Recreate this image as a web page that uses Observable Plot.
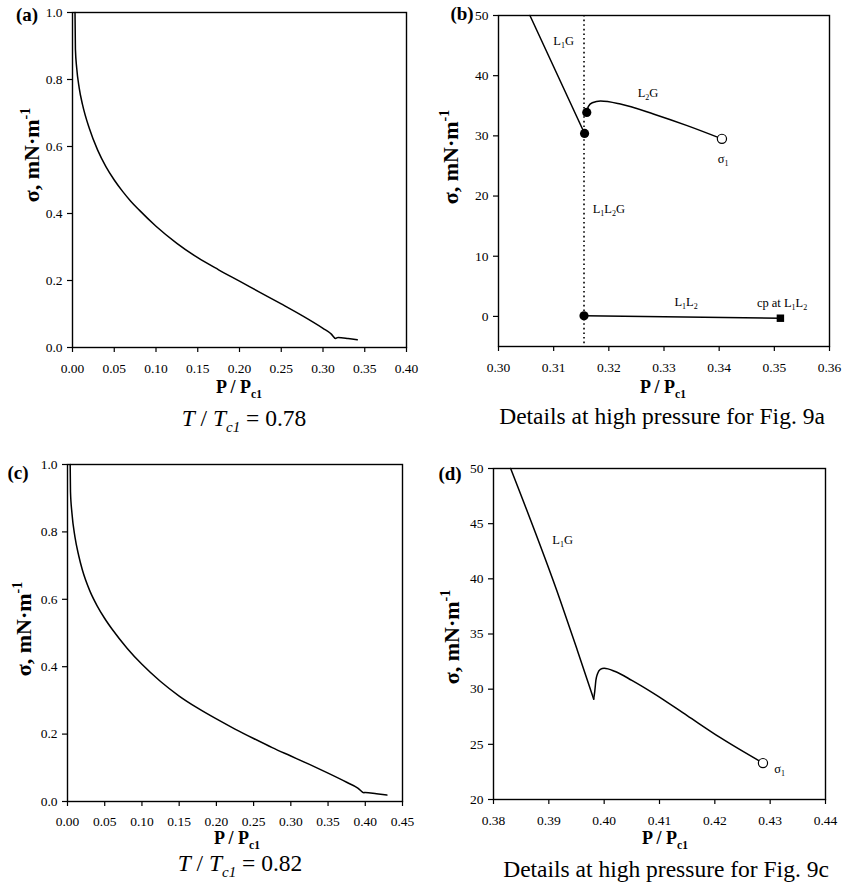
<!DOCTYPE html>
<html><head><meta charset="utf-8">
<script src="https://cdn.jsdelivr.net/npm/d3@7"></script>
<script src="https://cdn.jsdelivr.net/npm/@observablehq/plot@0.6"></script>
<style>
body{margin:0;background:#fff;}
#wrap{position:relative;width:844px;height:885px;overflow:hidden;background:#fff;}
.panel{position:absolute;}
</style></head><body><div id="wrap"></div>
<script>
// ---------- data ----------
// (a) T/Tc1 = 0.78
const aP = [0.003,0.0035,0.005,0.008,0.012,0.02,0.03,0.04,0.05,0.06,0.07,0.08,0.10,0.125,0.15,0.175,0.20,0.225,0.25,0.275,0.30,0.31,0.315,0.318,0.33,0.341];
const aSigma = [1.0,0.89,0.835,0.775,0.725,0.655,0.59,0.54,0.50,0.466,0.436,0.41,0.362,0.311,0.268,0.232,0.198,0.164,0.13,0.095,0.057,0.040,0.027,0.030,0.027,0.023];
const aXTicks = [0.00,0.05,0.10,0.15,0.20,0.25,0.30,0.35,0.40];
const aYTicks = [0.0,0.2,0.4,0.6,0.8,1.0];

// (b) details at high pressure for Fig. 9a
const bL1G_P = [0.3057,0.3156];
const bL1G_S = [50,30.4];
const bL2G_P = [0.316,0.3163,0.317,0.3185,0.3221,0.3282,0.3342,0.3405];
const bL2G_S = [33.9,34.9,35.5,35.8,35.3,33.6,31.7,29.5];
const bL1L2_P = [0.3155,0.3511];
const bL1L2_S = [0.1,-0.3];
const bThreePhaseP = [0.3155];
const bFilledP = [0.3156,0.316,0.3155];
const bFilledS = [30.4,33.9,0.1];
const bOpenP = [0.3405];
const bOpenS = [29.5];
const bSquareP = [0.3511];
const bSquareS = [-0.3];
const bLabelText = ["L_1G","L_2G","σ_1","L_1L_2G","L_1L_2","cp at L_1L_2"];
const bLabelP = [0.3118,0.3271,0.3407,0.3200,0.3340,0.3514];
const bLabelS = [45.8,37.1,26.2,17.9,2.4,2.3];
const bXTicks = [0.30,0.31,0.32,0.33,0.34,0.35,0.36];
const bYTicks = [0,10,20,30,40,50];

// (c) T/Tc1 = 0.82
const cP = [0.0036,0.004,0.006,0.01,0.015,0.02,0.03,0.04,0.05,0.06,0.08,0.10,0.125,0.15,0.175,0.20,0.225,0.25,0.275,0.30,0.325,0.35,0.375,0.39,0.398,0.40,0.415,0.429];
const cSigma = [1.0,0.92,0.855,0.785,0.73,0.687,0.625,0.58,0.543,0.511,0.455,0.407,0.356,0.313,0.277,0.245,0.215,0.187,0.16,0.135,0.11,0.084,0.057,0.04,0.026,0.027,0.023,0.019];
const cXTicks = [0.00,0.05,0.10,0.15,0.20,0.25,0.30,0.35,0.40,0.45];
const cYTicks = [0.0,0.2,0.4,0.6,0.8,1.0];

// (d) details at high pressure for Fig. 9c
const dDescentP = [0.3831,0.3921,0.3951,0.3981];
const dDescentS = [50,38.0,33.6,29.1];
const dRiseP = [0.3981,0.3983,0.3985,0.3988,0.3993,0.400,0.402,0.405,0.409,0.415,0.421,0.4287];
const dRiseS = [29.1,29.8,30.8,31.4,31.8,31.9,31.6,30.8,29.6,27.6,25.6,23.3];
const dOpenP = [0.4287];
const dOpenS = [23.3];
const dLabelText = ["L_1G","σ_1"];
const dLabelP = [0.3925,0.4317];
const dLabelS = [43.5,22.8];
const dXTicks = [0.38,0.39,0.40,0.41,0.42,0.43,0.44];
const dYTicks = [20,25,30,35,40,45,50];

// ---------- helpers ----------
const SERIF = "'Liberation Serif','Times New Roman',serif";
const svgNS = "http://www.w3.org/2000/svg";
const rows = (xs, ys) => xs.map((x, i) => ({x, y: ys[i]}));

function parse(str) {
  const parts = str.split(/(_\{[^}]*\}|_.|\^\{[^}]*\}|\^.)/).filter(s => s);
  return parts.map(p => {
    if (p[0] === "_") return {t: p.slice(1).replace(/^\{|\}$/g, ""), sub: true};
    if (p[0] === "^") return {t: p.slice(1).replace(/^\{|\}$/g, ""), sup: true};
    return {t: p};
  });
}
function fillRich(textEl, segs, size) {
  while (textEl.firstChild) textEl.removeChild(textEl.firstChild);
  let shift = 0;
  for (const s of segs) {
    const ts = document.createElementNS(svgNS, "tspan");
    const target = s.sub ? 0.25 * size : s.sup ? -0.42 * size : 0;
    const dy = target - shift;
    if (dy) ts.setAttribute("dy", dy);
    shift = target;
    if (s.sub || s.sup) ts.style.fontSize = (0.64 * size).toFixed(1) + "px";
    if (s.it) ts.style.fontStyle = "italic";
    ts.textContent = s.t;
    textEl.appendChild(ts);
  }
}
function addText(svg, x, y, segs, {size = 13, weight = "normal", anchor = "middle", rotate = 0} = {}) {
  const t = document.createElementNS(svgNS, "text");
  t.style.fontFamily = SERIF;
  t.style.fontSize = size + "px";
  t.style.fontWeight = weight;
  t.setAttribute("text-anchor", anchor);
  t.setAttribute("fill", "#000");
  if (rotate) t.setAttribute("transform", `translate(${x},${y}) rotate(${rotate})`);
  else { t.setAttribute("x", x); t.setAttribute("y", y); }
  fillRich(t, segs, size);
  svg.appendChild(t);
  return t;
}

const wrap = document.getElementById("wrap");

function panel(cfg) {
  const plot = Plot.plot({
    width: cfg.width, height: cfg.height,
    marginLeft: cfg.m[0], marginRight: cfg.m[1], marginTop: cfg.m[2], marginBottom: cfg.m[3],
    x: {domain: cfg.xDomain},
    y: {domain: cfg.yDomain},
    style: {fontFamily: SERIF, fontSize: "13.5px", color: "#000", background: "#fff", overflow: "visible"},
    marks: [
      Plot.axisX({ticks: cfg.xTicks, tickFormat: cfg.xFmt, tickSize: 5, tickPadding: cfg.xPad || 11, label: null, strokeWidth: 1.2}),
      Plot.axisY({ticks: cfg.yTicks, tickFormat: cfg.yFmt, tickSize: 5, tickPadding: 5, label: null, strokeWidth: 1.2}),
      ...cfg.marks,
      Plot.frame({stroke: "#000", strokeWidth: 1.4})
    ]
  });
  d3.select(plot).selectAll('g[aria-label="text"] text').each(function() {
    const s = this.textContent;
    if (/[_^]/.test(s)) fillRich(this, parse(s), 12.5);
  });
  const div = document.createElement("div");
  div.className = "panel";
  div.style.left = cfg.left + "px";
  div.style.top = cfg.top + "px";
  div.appendChild(plot);
  wrap.appendChild(div);
  const svg = plot;
  addText(svg, cfg.tag[1], cfg.tag[2], [{t: cfg.tag[0]}], {size: 19, weight: "bold"});
  addText(svg, cfg.yTitle[0], cfg.yTitle[1], [{t: "σ, mN·m"}, {t: "-1", sup: true}], {size: 22, weight: "bold", rotate: -90});
  addText(svg, cfg.xTitle[0], cfg.xTitle[1], [{t: "P / P"}, {t: "c1", sub: true}], {size: 18, weight: "bold"});
  addText(svg, cfg.caption[0], cfg.caption[1], cfg.caption[2], {size: 23.5});
  return plot;
}

const lineOpts = {x: "x", y: "y", stroke: "#000", strokeWidth: 1.5};
const f2 = d3.format(".2f"), f1 = d3.format(".1f"), f0 = d3.format("d");

// (a)
panel({
  left: 0, top: 0, width: 422, height: 440, m: [72, 16, 12, 93],
  xDomain: [0, 0.40], yDomain: [0, 1.0], xTicks: aXTicks, yTicks: aYTicks, xFmt: f2, yFmt: f1,
  marks: [Plot.line(rows(aP, aSigma), {...lineOpts, curve: "monotone-x"})],
  tag: ["(a)", 27, 21], yTitle: [39, 155], xTitle: [239, 393],
  caption: [244, 426, [{t: "T", it: true}, {t: " / "}, {t: "T", it: true}, {t: "c1", sub: true, it: true}, {t: " = 0.78"}]]
});

// (b)
panel({
  left: 422, top: 0, width: 422, height: 440, m: [76, 15, 15, 94],
  xDomain: [0.30, 0.36], yDomain: [-5, 50], xTicks: bXTicks, yTicks: bYTicks, xFmt: f2, yFmt: f0,
  marks: [
    Plot.ruleX(bThreePhaseP, {stroke: "#000", strokeWidth: 1.6, strokeDasharray: "1.6,3"}),
    Plot.line(rows(bL1G_P, bL1G_S), lineOpts),
    Plot.line(rows(bL2G_P, bL2G_S), {...lineOpts, curve: "monotone-x"}),
    Plot.line(rows(bL1L2_P, bL1L2_S), lineOpts),
    Plot.dot(rows(bFilledP, bFilledS), {x: "x", y: "y", r: 4.6, fill: "#000", stroke: "none"}),
    Plot.dot(rows(bOpenP, bOpenS), {x: "x", y: "y", r: 4.6, fill: "#fff", stroke: "#000", strokeWidth: 1.2}),
    Plot.dot(rows(bSquareP, bSquareS), {x: "x", y: "y", r: 4.2, symbol: "square", fill: "#000", stroke: "none"}),
    Plot.text(bLabelText.map((t, i) => ({t, x: bLabelP[i], y: bLabelS[i]})), {x: "x", y: "y", text: "t", fontSize: 12.5, fill: "#000"})
  ],
  tag: ["(b)", 40, 20], yTitle: [36, 157], xTitle: [241, 393],
  caption: [240, 424, [{t: "Details at high pressure for Fig. 9a"}]]
});

// (c)
panel({
  left: 0, top: 440, width: 422, height: 445, m: [67, 20, 24, 84], xPad: 10,
  xDomain: [0, 0.45], yDomain: [0, 1.0], xTicks: cXTicks, yTicks: cYTicks, xFmt: f2, yFmt: f1,
  marks: [Plot.line(rows(cP, cSigma), {...lineOpts, curve: "monotone-x"})],
  tag: ["(c)", 18, 39], yTitle: [31, 189], xTitle: [237, 404],
  caption: [240, 431, [{t: "T", it: true}, {t: " / "}, {t: "T", it: true}, {t: "c1", sub: true, it: true}, {t: " = 0.82"}]]
});

// (d)
panel({
  left: 422, top: 440, width: 422, height: 445, m: [71, 19, 28, 86],
  xDomain: [0.38, 0.44], yDomain: [20, 50], xTicks: dXTicks, yTicks: dYTicks, xFmt: f2, yFmt: f0,
  marks: [
    Plot.line(rows(dDescentP, dDescentS), {...lineOpts, curve: "monotone-x"}),
    Plot.line(rows(dRiseP, dRiseS), {...lineOpts, curve: "monotone-x"}),
    Plot.dot(rows(dOpenP, dOpenS), {x: "x", y: "y", r: 4.6, fill: "#fff", stroke: "#000", strokeWidth: 1.2}),
    Plot.text(dLabelText.map((t, i) => ({t, x: dLabelP[i], y: dLabelS[i]})), {x: "x", y: "y", text: "t", fontSize: 12.5, fill: "#000"})
  ],
  tag: ["(d)", 28, 40], yTitle: [37, 197], xTitle: [243, 404],
  caption: [244, 437, [{t: "Details at high pressure for Fig. 9c"}]]
});
</script></body></html>
